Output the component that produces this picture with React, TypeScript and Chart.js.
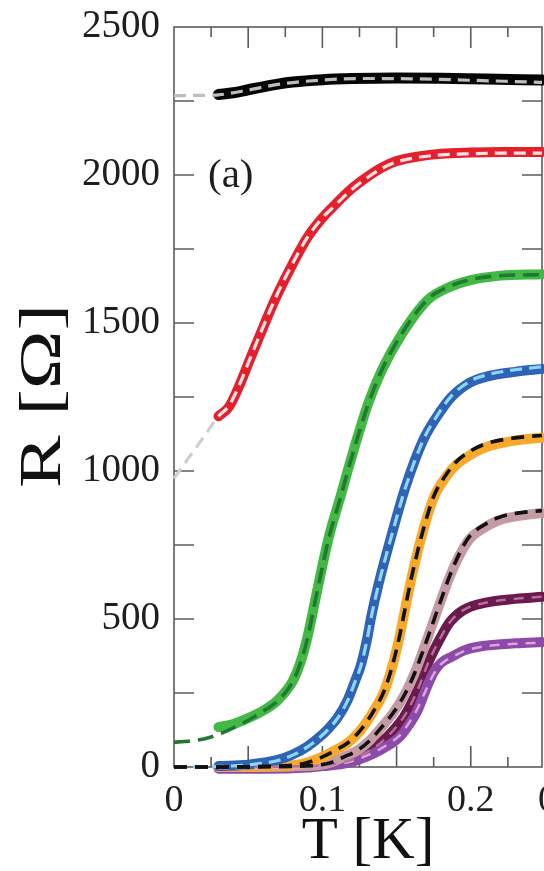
import React, { useEffect, useRef } from 'react';
import { Chart, registerables } from 'chart.js';

Chart.register(...registerables);

// ---------- data (T in K, R in Ohm) ----------
const blackT = [0.03, 0.04, 0.05, 0.06, 0.07, 0.08, 0.1, 0.12, 0.15, 0.18, 0.21, 0.248];
const blackR = [2272, 2278, 2288, 2298, 2307, 2314, 2322, 2326, 2328, 2327, 2324, 2321];
const blackFitT = [0, 0.015, 0.03, 0.05, 0.07, 0.1, 0.13, 0.16, 0.2, 0.248];
const blackFitR = [2268, 2269, 2271, 2287, 2306, 2321, 2326, 2325, 2320, 2313];

const redT = [0.03, 0.037, 0.045, 0.051, 0.058, 0.065, 0.07, 0.08, 0.09, 0.1, 0.107, 0.12, 0.13, 0.14, 0.15, 0.165, 0.18, 0.2, 0.22, 0.248];
const redR = [1185, 1216, 1300, 1375, 1460, 1544, 1600, 1700, 1790, 1855, 1892, 1955, 1993, 2025, 2047, 2063, 2072, 2076, 2078, 2078];
const redFitT = [0, 0.01, 0.02, 0.03, 0.037, 0.045, 0.051, 0.058, 0.065, 0.07, 0.08, 0.09, 0.1, 0.107, 0.12, 0.13, 0.14, 0.15, 0.165, 0.18, 0.2, 0.22, 0.248];
const redFitR = [975, 1045, 1115, 1185, 1220, 1302, 1377, 1462, 1546, 1602, 1702, 1790, 1855, 1890, 1952, 1990, 2022, 2044, 2060, 2068, 2072, 2074, 2074];

const greenT = [0.03, 0.04, 0.05, 0.06, 0.07, 0.08, 0.085, 0.09, 0.095, 0.1, 0.105, 0.112, 0.117, 0.124, 0.131, 0.14, 0.154, 0.171, 0.185, 0.2, 0.22, 0.248];
const greenR = [135, 145, 165, 190, 226, 290, 350, 440, 560, 680, 790, 910, 1000, 1120, 1230, 1340, 1466, 1578, 1620, 1645, 1660, 1665];
const greenFitT = [0, 0.01, 0.02, 0.03, 0.04, 0.05, 0.06, 0.07, 0.08, 0.085, 0.09, 0.095, 0.1, 0.105, 0.112, 0.117, 0.124, 0.131, 0.14, 0.154, 0.171, 0.185, 0.2, 0.22, 0.248];
const greenFitR = [84, 87, 95, 110, 132, 158, 188, 224, 288, 348, 436, 556, 676, 786, 906, 998, 1118, 1228, 1340, 1468, 1580, 1622, 1647, 1660, 1663];

const blueT = [0.03, 0.05, 0.07, 0.08, 0.09, 0.1, 0.105, 0.11, 0.117, 0.122, 0.126, 0.13, 0.133, 0.138, 0.147, 0.156, 0.168, 0.178, 0.187, 0.2, 0.21, 0.23, 0.248];
const blueR = [3, 8, 24, 42, 70, 110, 135, 165, 226, 290, 345, 430, 510, 621, 790, 946, 1105, 1190, 1250, 1300, 1318, 1335, 1345];
const blueFitT = [0, 0.03, 0.05, 0.07, 0.08, 0.09, 0.1, 0.105, 0.11, 0.117, 0.122, 0.126, 0.13, 0.133, 0.138, 0.147, 0.156, 0.168, 0.178, 0.187, 0.2, 0.21, 0.23, 0.248];
const blueFitR = [0, 2, 7, 22, 40, 68, 108, 133, 163, 224, 288, 343, 428, 508, 619, 788, 944, 1105, 1192, 1254, 1305, 1324, 1342, 1352];

const orangeT = [0.03, 0.06, 0.08, 0.09, 0.1, 0.11, 0.117, 0.125, 0.135, 0.142, 0.147, 0.152, 0.156, 0.161, 0.168, 0.175, 0.184, 0.19, 0.2, 0.21, 0.23, 0.248];
const orangeR = [0, 2, 6, 15, 34, 60, 81, 120, 193, 260, 338, 440, 540, 660, 800, 910, 985, 1020, 1055, 1080, 1103, 1112];
const orangeFitT = [0, 0.03, 0.06, 0.08, 0.09, 0.1, 0.11, 0.117, 0.125, 0.135, 0.142, 0.147, 0.152, 0.156, 0.161, 0.168, 0.175, 0.184, 0.19, 0.2, 0.21, 0.23, 0.248];
const orangeFitR = [0, 0, 2, 6, 15, 34, 60, 81, 120, 193, 262, 340, 442, 542, 662, 802, 914, 992, 1030, 1068, 1092, 1112, 1120];

const pinkT = [0.03, 0.08, 0.1, 0.105, 0.115, 0.124, 0.132, 0.14, 0.148, 0.156, 0.162, 0.168, 0.174, 0.18, 0.186, 0.194, 0.2, 0.208, 0.22, 0.235, 0.248];
const pinkR = [0, 2, 8, 14, 35, 57, 90, 135, 185, 250, 315, 395, 480, 565, 645, 730, 775, 805, 835, 850, 858];
const pinkFitT = [0, 0.03, 0.08, 0.1, 0.105, 0.115, 0.124, 0.132, 0.14, 0.148, 0.156, 0.162, 0.168, 0.174, 0.18, 0.186, 0.194, 0.2, 0.208, 0.22, 0.235, 0.248];
const pinkFitR = [0, 0, 2, 8, 14, 35, 57, 90, 135, 185, 250, 315, 395, 480, 565, 648, 738, 784, 815, 845, 860, 866];

const maroonT = [0.03, 0.1, 0.12, 0.13, 0.14, 0.148, 0.155, 0.16, 0.165, 0.172, 0.18, 0.186, 0.195, 0.21, 0.23, 0.248];
const maroonR = [0, 5, 25, 50, 85, 125, 170, 215, 270, 360, 440, 490, 530, 555, 568, 575];
const maroonFitT = [0.03, 0.1, 0.12, 0.13, 0.14, 0.148, 0.155, 0.16, 0.165, 0.172, 0.18, 0.186, 0.195, 0.21, 0.23, 0.248];
const maroonFitR = [0, 5, 25, 50, 85, 125, 170, 215, 270, 360, 440, 490, 530, 555, 568, 575];

const purpleT = [0.03, 0.06, 0.09, 0.1, 0.117, 0.135, 0.145, 0.152, 0.158, 0.164, 0.17, 0.175, 0.18, 0.187, 0.196, 0.21, 0.23, 0.248];
const purpleR = [-6, -6, -2, 3, 14, 47, 75, 101, 140, 190, 265, 320, 352, 372, 395, 410, 418, 422];
const purpleFitT = [0.03, 0.06, 0.09, 0.1, 0.117, 0.135, 0.145, 0.152, 0.158, 0.164, 0.17, 0.175, 0.18, 0.187, 0.196, 0.21, 0.23, 0.248];
const purpleFitR = [-4, -4, -1, 4, 16, 50, 80, 106, 146, 196, 262, 314, 348, 370, 392, 408, 416, 420];

// ---------- axes ----------
const xMin = 0;
const xMax = 0.248;
const yMin = 0;
const yMax = 2500;
const xLabelValues = [0, 0.1, 0.2];
const xLabels = ['0', '0.1', '0.2'];
const xTickMarks = [0.025, 0.05, 0.075, 0.1, 0.125, 0.15, 0.175, 0.2, 0.225];
const yLabelValues = [0, 500, 1000, 1500, 2000, 2500];
const yTickMarks = [250, 500, 750, 1000, 1250, 1500, 1750, 2000, 2250];
const xTitle = 'T [K]';
const yTitle = 'R [Ω]';
const panelLabel = '(a)';
const nextPanelTick = '0';

const SERIF = "'Liberation Serif', 'DejaVu Serif', serif";

const pts = (t: number[], r: number[]) => t.map((x, i) => ({ x, y: r[i] }));

const dataLine = (t: number[], r: number[], color: string, width = 9) => ({
  data: pts(t, r),
  borderColor: color,
  borderWidth: width,
  borderCapStyle: 'round' as const,
  borderJoinStyle: 'round' as const,
  pointRadius: 0,
  cubicInterpolationMode: 'monotone' as const,
  fill: false,
  clip: false as const,
  order: 2,
});

const fitLine = (t: number[], r: number[], color: any, width = 3.2, dash = [12, 7]) => ({
  data: pts(t, r),
  borderColor: color,
  borderWidth: width,
  borderDash: dash,
  pointRadius: 0,
  cubicInterpolationMode: 'monotone' as const,
  fill: false,
  clip: false as const,
  order: 1,
});

const framePlugin = {
  id: 'frame',
  beforeDatasetsDraw(chart: any) {
    const { ctx, chartArea: a, scales } = chart;
    const xs = scales.x;
    const ys = scales.y;
    ctx.save();
    ctx.strokeStyle = '#5c5c5c';
    ctx.lineWidth = 1.6;
    ctx.strokeRect(a.left, a.top, a.right - a.left, a.bottom - a.top);
    ctx.beginPath();
    xTickMarks.forEach((v) => {
      const px = xs.getPixelForValue(v);
      const major = Math.abs(v / 0.05 - Math.round(v / 0.05)) < 1e-6;
      const len = major ? 21 : 10;
      ctx.moveTo(px, a.bottom);
      ctx.lineTo(px, a.bottom - len);
      ctx.moveTo(px, a.top);
      ctx.lineTo(px, a.top + len);
    });
    yTickMarks.forEach((v) => {
      const py = ys.getPixelForValue(v);
      ctx.moveTo(a.left, py);
      ctx.lineTo(a.left + 20, py);
      ctx.moveTo(a.right, py);
      ctx.lineTo(a.right - 20, py);
    });
    ctx.stroke();
    ctx.restore();
  },
  afterDatasetsDraw(chart: any) {
    const { ctx, chartArea: a } = chart;
    ctx.save();
    ctx.fillStyle = '#1e1e1e';
    ctx.font = `41px ${SERIF}`;
    ctx.textAlign = 'left';
    ctx.textBaseline = 'middle';
    ctx.fillText(panelLabel, a.left + 34, 176);

    // partial tick label of the neighbouring panel, cut by the page edge
    ctx.font = `38px ${SERIF}`;
    ctx.textBaseline = 'alphabetic';
    ctx.fillText(nextPanelTick, a.right - 4, 811);

    // axis titles
    ctx.fillStyle = '#111111';
    ctx.font = `59px ${SERIF}`;
    ctx.textAlign = 'center';
    ctx.textBaseline = 'alphabetic';
    ctx.fillText(xTitle, 368, 858);

    ctx.translate(60, 396);
    ctx.rotate(-Math.PI / 2);
    ctx.scale(1.34, 1);
    ctx.fillText(yTitle, 0, 0);
    ctx.restore();
  },
};

export default function App() {
  const ref = useRef<HTMLCanvasElement | null>(null);

  useEffect(() => {
    if (!ref.current) return;
    const chart = new Chart(ref.current, {
      type: 'line',
      data: {
        datasets: [
          fitLine(blackFitT, blackFitR, '#bdbdbd'),
          {
            ...fitLine(redFitT, redFitR, '#f3e2e2'),
            segment: {
              borderColor: (c: any) => (c.p1.parsed.x <= 0.0301 ? '#cfcfcf' : '#f6e4e4'),
            },
          },
          fitLine(greenFitT, greenFitR, '#1d7a30', 3.6, [16, 8]),
          fitLine(orangeFitT, orangeFitR, '#111111', 3.6, [13, 8]),
          fitLine(pinkFitT, pinkFitR, '#111111', 3.6, [13, 8]),
          fitLine(blueFitT, blueFitR, '#8ed6f5'),
          fitLine(maroonFitT, maroonFitR, '#b36f98', 2.5, [10, 8]),
          fitLine(purpleFitT, purpleFitR, '#d8a6d6', 2.5, [10, 8]),
          dataLine(blackT, blackR, '#050505', 11),
          dataLine(redT, redR, '#e5202c', 10),
          dataLine(greenT, greenR, '#44b844', 10),
          dataLine(blueT, blueR, '#2f63b6', 10),
          dataLine(orangeT, orangeR, '#f8a92a', 10),
          dataLine(pinkT, pinkR, '#c49aa4', 10),
          dataLine(purpleT, purpleR, '#8d4aa8', 10),
          dataLine(maroonT, maroonR, '#6a1a4c', 10),
        ] as any,
      },
      options: {
        animation: false,
        responsive: false,
        devicePixelRatio: 1,
        layout: { padding: { top: 27, right: 2, left: 0, bottom: 0 } },
        plugins: { legend: { display: false }, tooltip: { enabled: false } },
        scales: {
          x: {
            type: 'linear',
            min: xMin,
            max: xMax,
            grid: { display: false, drawTicks: false },
            border: { display: false },
            ticks: {
              stepSize: 0.025,
              autoSkip: false,
              maxRotation: 0,
              padding: 11,
              color: '#1e1e1e',
              font: { family: SERIF, size: 38 },
              callback: (v: any) => {
                const i = xLabelValues.findIndex((lv) => Math.abs(lv - Number(v)) < 1e-6);
                return i >= 0 ? xLabels[i] : '';
              },
            },
            title: { display: false },
            afterFit: (s: any) => {
              s.height = 104;
              s.paddingLeft = 0;
              s.paddingRight = 0;
            },
          },
          y: {
            type: 'linear',
            min: yMin,
            max: yMax,
            grid: { display: false, drawTicks: false },
            border: { display: false },
            ticks: {
              stepSize: 250,
              autoSkip: false,
              padding: 14,
              color: '#1e1e1e',
              font: { family: SERIF, size: 39 },
              callback: (v: any) => (yLabelValues.includes(Number(v)) ? String(v) : ''),
            },
            title: { display: false },
            afterFit: (s: any) => {
              s.width = 174;
              s.paddingTop = 0;
              s.paddingBottom = 0;
            },
          },
        },
      } as any,
      plugins: [framePlugin],
    });
    return () => chart.destroy();
  }, []);

  return (
    <div style={{ position: 'fixed', left: 0, top: 0, width: 544, height: 871, background: '#fff' }}>
      <canvas ref={ref} width={544} height={871} style={{ display: 'block' }} />
    </div>
  );
}
